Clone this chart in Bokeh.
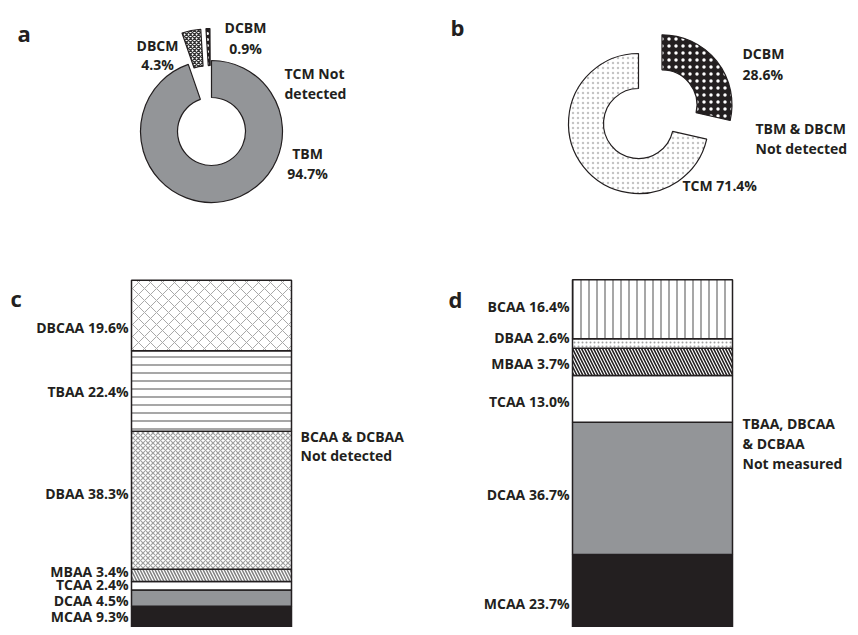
import math
from bokeh.plotting import figure
from bokeh.models import Range1d
from bokeh.core.properties import value
from bokeh.embed import file_html
from bokeh.resources import INLINE

# ---------------- data ----------------
# panel a (donut): clockwise from 12 o'clock
a_names = ["TBM", "DBCM", "DCBM"]
a_values = [94.7, 4.3, 0.9]
a_explode = [False, True, True]
a_note = ["TCM Not", "detected"]

# panel b (donut): clockwise from 12 o'clock
b_names = ["DCBM", "TCM"]
b_values = [28.6, 71.4]
b_explode = [True, False]
b_note = ["TBM & DBCM", "Not detected"]

# panel c (stacked bar, bottom to top)
c_names = ["MCAA", "DCAA", "TCAA", "MBAA", "DBAA", "TBAA", "DBCAA"]
c_values = [9.3, 4.5, 2.4, 3.4, 38.3, 22.4, 19.6]
c_note = ["BCAA & DCBAA", "Not detected"]

# panel d (stacked bar, bottom to top); drawn heights and printed labels
d_names = ["MCAA", "DCAA", "TCAA", "MBAA", "DBAA", "BCAA"]
d_values = [23.7, 36.7, 13.0, 7.6, 2.6, 16.4]
d_label_values = ["23.7", "36.7", "13.0", "3.7", "2.6", "16.4"]
d_note = ["TBAA, DBCAA", "& DCBAA", "Not measured"]

# ---------------- layout / style ----------------
W, H = 850, 627
TXT = "#231f20"
GRAY = "#939598"
BLACK = "#231f20"
FONT = value("Open Sans")
FS = "14px"


def Y(py):
    # picture pixel y -> data y of the main range
    return 635 - py


p = figure(width=W, height=H, x_range=Range1d(0, W), y_range=Range1d(635 - H, 635),
           x_axis_type=None, y_axis_type=None, toolbar_location=None,
           output_backend="svg", min_border=0, outline_line_color=None)
p.grid.visible = False
p.background_fill_color = "white"
p.border_fill_color = "white"

# percentage range shared by the two stacked bars
BAR_TOP_PX = 279.3
PX_PER_PCT = 3.6
top_data = Y(BAR_TOP_PX)
zero_data = top_data - 100 * PX_PER_PCT
p.extra_y_ranges = {"pct": Range1d((635 - H - zero_data) / PX_PER_PCT,
                                   (635 - zero_data) / PX_PER_PCT)}


def txt(x, y, s, align="center", size=FS, style="bold", baseline="middle", rng="default"):
    kw = {}
    if rng != "default":
        kw["y_range_name"] = rng
    p.text(x=[x], y=[y], text=[s], text_font=FONT, text_font_style=style,
           text_font_size=size, text_align=align, text_baseline=baseline,
           text_color=TXT, **kw)


def donut(cx, cy, r_in, r_out, values, explode, styles, off):
    cum = 0.0
    for v, ex, st in zip(values, explode, styles):
        a0 = math.pi / 2 - 2 * math.pi * cum / 100
        a1 = math.pi / 2 - 2 * math.pi * (cum + v) / 100
        mid = (a0 + a1) / 2
        dx = off * math.cos(mid) if ex else 0
        dy = off * math.sin(mid) if ex else 0
        p.annular_wedge(x=cx + dx, y=cy + dy, inner_radius=r_in, outer_radius=r_out,
                        start_angle=a0, end_angle=a1, direction="clock",
                        line_color=BLACK, line_width=1.2, **st)
        cum += v


# ---- panel a ----
a_styles = [
    dict(fill_color=GRAY),
    dict(fill_color="white", hatch_pattern="diagonal_cross", hatch_color="#333333",
         hatch_scale=4, hatch_weight=1.3),
    dict(fill_color=BLACK, hatch_pattern="dot", hatch_color="white", hatch_scale=6,
         hatch_weight=1),
]
donut(211, Y(131), 34, 71, a_values, a_explode, a_styles, 32)

# ---- panel b ----
b_styles = [
    dict(fill_color=BLACK, hatch_pattern="dot", hatch_color="white", hatch_scale=7,
         hatch_weight=2),
    dict(fill_color="white", hatch_pattern="dot", hatch_color="#c4c4c4", hatch_scale=5,
         hatch_weight=2.5),
]
donut(638, Y(123), 35, 70, b_values, b_explode, b_styles, 30)


# ---- stacked bars ----
def stack(xc, width, values, styles):
    cum = 0.0
    mids = []
    for v, st in zip(values, styles):
        p.vbar(x=xc, width=width, bottom=cum, top=cum + v, y_range_name="pct",
               line_color=BLACK, line_width=1.5, **st)
        mids.append(cum + v / 2)
        cum += v
    return mids


c_styles = [
    dict(fill_color=BLACK),
    dict(fill_color=GRAY),
    dict(fill_color="white"),
    dict(fill_color="white", hatch_pattern="left_diagonal_line", hatch_color="#808080",
         hatch_scale=6, hatch_weight=1.5),
    dict(fill_color="white", hatch_pattern="diagonal_cross", hatch_color="#a0a0a0",
         hatch_scale=5, hatch_weight=1.2),
    dict(fill_color="white", hatch_pattern="horizontal_line", hatch_color="#8a8a8a",
         hatch_scale=8, hatch_weight=1.5),
    dict(fill_color="white", hatch_pattern="diagonal_cross", hatch_color="#a8a8a8",
         hatch_scale=12, hatch_weight=1),
]
c_mids = stack(211, 160, c_values, c_styles)
c_label_shift = [1.9, -0.6, 0.4, 1.2, 1.8, 0.0, -3.3]
for n, v, m, s in zip(c_names, c_values, c_mids, c_label_shift):
    txt(128, m + s, f"{n} {v}%", align="right", rng="pct")

d_styles = [
    dict(fill_color=BLACK),
    dict(fill_color=GRAY),
    dict(fill_color="white"),
    dict(fill_color="white", hatch_pattern="left_diagonal_line", hatch_color=BLACK,
         hatch_scale=6, hatch_weight=1.6),
    dict(fill_color="white", hatch_pattern="dot", hatch_color="#a0a0a0",
         hatch_scale=4, hatch_weight=1),
    dict(fill_color="white", hatch_pattern="vertical_line", hatch_color="#8a8a8a",
         hatch_scale=8, hatch_weight=1.5),
]
d_mids = stack(652, 160, d_values, d_styles)
d_label_shift = [-1.8, -1.8, -0.6, -0.5, 1.6, 0.9]
for n, v, m, s in zip(d_names, d_label_values, d_mids, d_label_shift):
    txt(569, m + s, f"{n} {v}%", align="right", rng="pct")

# ---- donut labels ----
txt(157, Y(45), a_names[1]); txt(157, Y(64), f"{a_values[1]}%")
txt(245, Y(27), a_names[2]); txt(245, Y(48), f"{a_values[2]}%")
txt(284, Y(73), a_note[0], align="left"); txt(284, Y(93), a_note[1], align="left")
txt(307, Y(153), a_names[0]); txt(307, Y(173), f"{a_values[0]}%")

txt(742, Y(53), b_names[0], align="left"); txt(742, Y(74), f"{b_values[0]}%", align="left")
txt(755, Y(128), b_note[0], align="left"); txt(755, Y(148), b_note[1], align="left")
txt(682, Y(185), f"{b_names[1]} {b_values[1]}%", align="left")

# ---- notes ----
txt(300, Y(436), c_note[0], align="left"); txt(300, Y(455), c_note[1], align="left")
for i, s in enumerate(d_note):
    txt(742, Y(423 + 20 * i), s, align="left")

# ---- panel letters ----
for letter, x, y in [("a", 17, 32), ("b", 450, 26), ("c", 10, 297), ("d", 448, 298)]:
    txt(x, Y(y), letter, align="left", size="22px", baseline="alphabetic")

open("out.html", "w").write(file_html(p, INLINE))
